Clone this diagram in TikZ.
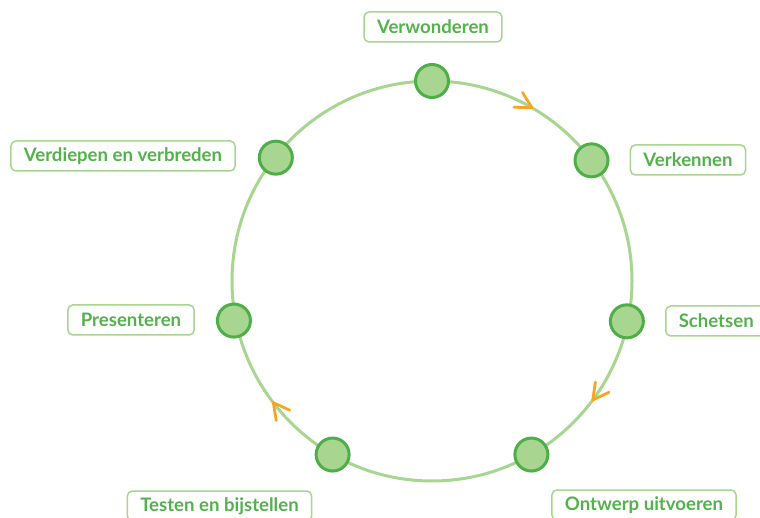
\documentclass[tikz,border=0pt]{standalone}
\usepackage{fontspec}
\setmainfont{Lato}
\definecolor{lijn}{RGB}{168,213,143}
\definecolor{donker}{RGB}{78,174,72}
\definecolor{tekst}{RGB}{84,178,76}
\definecolor{oranje}{RGB}{245,166,35}

\begin{document}
\begin{tikzpicture}[x=1pt,y=1pt,
  stap/.style={circle,draw=donker,fill=lijn,line width=3pt,minimum size=33pt,inner sep=0pt},
  kaart/.style={draw=lijn,line width=1.5pt,rounded corners=5pt,fill=white,text=tekst,font=\fontsize{18.6}{22}\selectfont\bfseries,minimum height=30pt,inner xsep=13pt,inner ysep=0pt},
  pijl/.style={draw=oranje,line width=2.8pt,line cap=round,line join=round}]
\useasboundingbox (0,0) rectangle (760,517);
\coordinate (c) at (432,236);
\draw[lijn,line width=3pt] (c) circle [radius=200];
\draw[pijl,shift={(c)},rotate=60] (191.5,15.9) -- (200,0) -- (208.5,15.9);
\draw[pijl,shift={(c)},rotate=-36.5] (191.5,15.9) -- (200,0) -- (208.5,15.9);
\draw[pijl,shift={(c)},rotate=217.5] (191.5,15.9) -- (200,0) -- (208.5,15.9);
\node[stap] (verwonderen) at ([shift={(90:200)}]c) {};
\node[stap] (verkennen) at ([shift={(37.1:200)}]c) {};
\node[stap] (schetsen) at ([shift={(-11.7:199)}]c) {};
\node[stap] (ontwerp) at ([shift={(-60.2:200)}]c) {};
\node[stap] (testen) at ([shift={(240.2:200)}]c) {};
\node[stap] (presenteren) at ([shift={(191.3:202)}]c) {};
\node[stap] (verdiepen) at ([shift={(141.7:199)}]c) {};
\node[kaart] (t-verwonderen) at (433,490) {Verwonderen};
\node[kaart] (t-verkennen) at (688,357) {Verkennen};
\node[kaart,anchor=west] (t-schetsen) at (665,196) {Schetsen};
\node[kaart] (t-ontwerp) at (644,12) {Ontwerp uitvoeren};
\node[kaart] (t-testen) at (219.5,11) {Testen en bijstellen};
\node[kaart] (t-presenteren) at (131,197) {Presenteren};
\node[kaart] (t-verdiepen) at (123,361) {Verdiepen en verbreden};
\end{tikzpicture}
\end{document}
